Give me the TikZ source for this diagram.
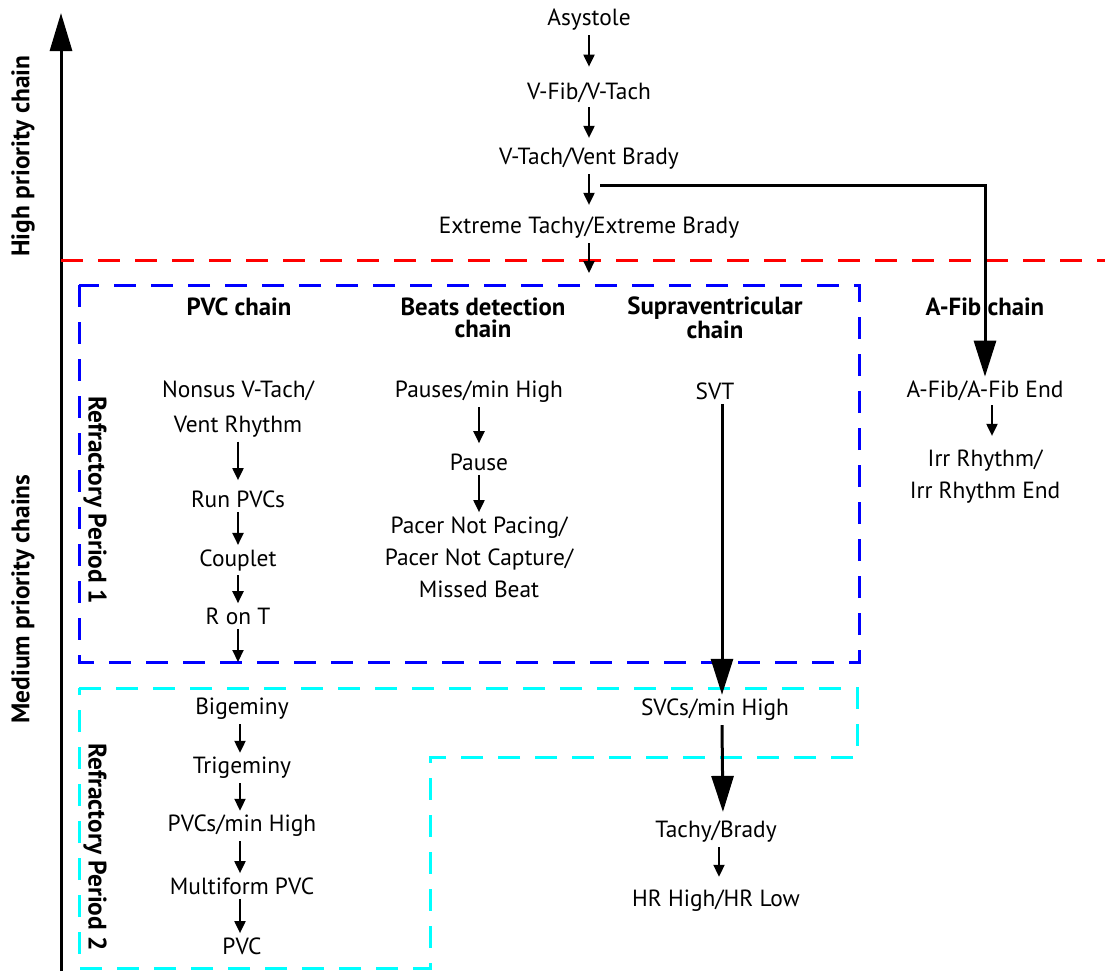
\documentclass[tikz,border=0pt]{standalone}
\usepackage{fontspec}
\setmainfont{PT Sans}
\usetikzlibrary{arrows.meta}
\definecolor{hiline}{HTML}{FF0000}
\definecolor{rponeline}{HTML}{0000FF}
\definecolor{rptwoline}{HTML}{00FFFF}
\tikzset{
  evt/.style   = {align=center, inner sep=2pt, font=\fontsize{11.7}{16}\selectfont},
  hdr/.style   = {align=center, inner sep=2pt, font=\fontsize{12.4}{11}\selectfont\bfseries},
  sidelbl/.style = {inner sep=0pt, font=\fontsize{12.7}{13}\selectfont\bfseries},
  nxt/.style   = {-{Triangle[length=6pt, width=5.5pt]}, line width=1pt},
  jump/.style  = {-{Triangle[length=18pt, width=11pt]}, line width=1.5pt},
  zone/.style  = {line width=1.5pt, dash pattern=on 11pt off 7.5pt},
}

\begin{document}
\begin{tikzpicture}[x=0.5pt, y=-0.5pt]
  \useasboundingbox (0,0) rectangle (1105,971);

  % priority axis
  \coordinate (axbot) at (61,971);
  \coordinate (axtop) at (61,13);
  \draw[line width=1.5pt, -{Triangle[length=19pt, width=11pt]}] (axbot) -- (axtop);
  \node[sidelbl, rotate=90] (hilbl) at (23,156) {High priority chain};
  \node[sidelbl, rotate=90] (medlbl) at (23,599) {Medium priority chains};

  % zones
  \draw[zone, draw=hiline] (61,260) -- (1105,260);
  \draw[zone, draw=rponeline] (79,285) rectangle (859,662);
  \draw[zone, draw=rptwoline] (79,688) -- (857,688) -- (857,757) -- (430,757)
    -- (430,968) -- (79,968) -- cycle;
  \node[sidelbl, rotate=-90] (rp1) at (95,500) {Refractory Period 1};
  \node[sidelbl, rotate=-90] (rp2) at (95,847) {Refractory Period 2};

  % high priority chain
  \node[evt] (asys)  at (589,20)  {Asystole};
  \node[evt] (vfib)  at (589,93)  {V-Fib/V-Tach};
  \node[evt] (vtach) at (589,159) {V-Tach/Vent Brady};
  \node[evt] (xtrm)  at (589,228) {Extreme Tachy/Extreme Brady};
  \coordinate (xtrmend) at (589,273);
  \coordinate (branch)  at (600,185);

  % chain headers
  \node[hdr] (pvchd) at (239,307) {PVC chain};
  \node[hdr] (beahd) at (483,318) {Beats detection\\chain};
  \node[hdr] (suphd) at (715,318) {Supraventricular\\chain};
  \node[hdr] (afhd)  at (985,307) {A-Fib chain};

  % PVC chain
  \node[evt, font=\fontsize{11.7}{17.5}\selectfont]
    (nsvt) at (238,409) {Nonsus V-Tach/\\Vent Rhythm};
  \node[evt] (runp) at (238,499) {Run PVCs};
  \node[evt] (coup) at (238,560) {Couplet};
  \node[evt] (ront) at (238,616) {R on T};
  \coordinate (rontend) at (238,662);
  \node[evt] (bige) at (242,709) {Bigeminy};
  \node[evt] (trig) at (242,768) {Trigeminy};
  \node[evt] (pvcm) at (242,826) {PVCs/min High};
  \node[evt] (mult) at (242,886) {Multiform PVC};
  \node[evt] (pvc)  at (242,946) {PVC};

  % beats detection chain
  \node[evt] (pmin)  at (479,392) {Pauses/min High};
  \node[evt] (paus)  at (479,462) {Pause};
  \node[evt] (pacer) at (479,557) {Pacer Not Pacing/\\Pacer Not Capture/\\Missed Beat};

  % supraventricular chain
  \node[evt] (svt)  at (715,391) {SVT};
  \node[evt] (svcs) at (715,710) {SVCs/min High};
  \node[evt] (tach) at (716,832) {Tachy/Brady};
  \node[evt] (hrhl) at (716,901) {HR High/HR Low};

  % A-Fib chain
  \node[evt] (afib) at (985,391) {A-Fib/A-Fib End};
  \node[evt] (irr)  at (985,477) {Irr Rhythm/\\Irr Rhythm End};

  % connectors
  \draw[nxt, shorten >=6pt] (asys) -- (vfib);
  \draw[nxt, shorten >=3pt] (vfib) -- (vtach);
  \draw[nxt, shorten >=4pt] (vtach) -- (xtrm);
  \draw[nxt] (xtrm) -- (xtrmend);
  \draw[jump] (branch) -| (afib.north);

  \draw[nxt, shorten >=3pt] (nsvt) -- (runp);
  \draw[nxt] (runp) -- (coup);
  \draw[nxt] (coup) -- (ront);
  \draw[nxt] (ront) -- (rontend);
  \draw[nxt] ([xshift=-1pt]bige.south) -- ([xshift=-1pt]trig.north);
  \draw[nxt] ([xshift=-1pt]trig.south) -- ([xshift=-1pt]pvcm.north);
  \draw[nxt] ([xshift=-1pt]pvcm.south) -- ([xshift=-1pt]mult.north);
  \draw[nxt] ([xshift=-1pt]mult.south) -- ([xshift=-1pt]pvc.north);

  \draw[nxt, shorten >=3pt] (pmin) -- (paus);
  \draw[nxt] (paus) -- (pacer);

  \draw[jump] ([xshift=3.5pt]svt.south) -- ([xshift=3.5pt]svcs.north);
  \draw[jump, shorten >=2.5pt] ([xshift=3.5pt]svcs.south) -- ([xshift=3.5pt]tach.north);
  \draw[nxt, shorten >=4.5pt] ([xshift=1.5pt]tach.south) -- ([xshift=1.5pt]hrhl.north);

  \draw[nxt, shorten >=5pt] ([xshift=3.5pt]afib.south) -- ([xshift=3.5pt]irr.north);
\end{tikzpicture}
\end{document}
